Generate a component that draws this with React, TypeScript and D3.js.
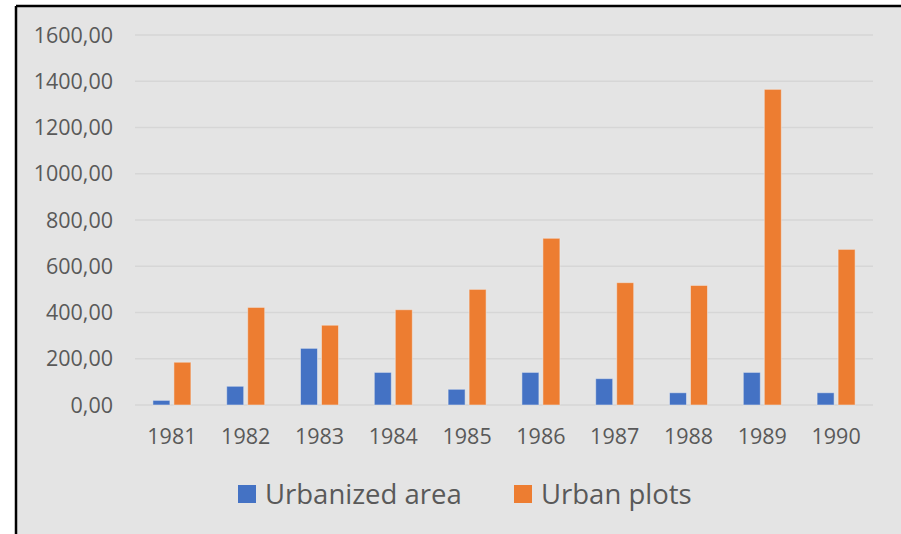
import React from "react";
import * as d3 from "d3";

// values
const years = ["1981", "1982", "1983", "1984", "1985", "1986", "1987", "1988", "1989", "1990"];
const urbanizedArea = [20, 81, 245, 141, 68, 141, 114, 53, 141, 53];
const urbanPlots = [185, 422, 345, 412, 500, 721, 529, 517, 1365, 673];
const yTicks = [0, 200, 400, 600, 800, 1000, 1200, 1400, 1600];
const seriesNames = ["Urbanized area", "Urban plots"];
const seriesColors = ["#4472C4", "#ED7D31"];

const W = 901;
const H = 534;
const margin = { top: 35, right: 28, bottom: 129, left: 135 };
const FONT = "'Open Sans', 'Noto Sans', sans-serif";

const App = () => {
  const x = d3
    .scaleBand()
    .domain(years)
    .range([margin.left, W - margin.right]);
  const y = d3
    .scaleLinear()
    .domain([0, 1600])
    .range([H - margin.bottom, margin.top]);
  const barW = 17;
  const gap = 4;
  const series = [urbanizedArea, urbanPlots];
  const fmt = (v) => d3.format(".2f")(v).replace(".", ",");

  return (
    <svg
      width={W}
      height={H}
      style={{ position: "absolute", left: 0, top: 0, fontFamily: FONT }}
    >
      <rect x={0} y={0} width={W} height={H} fill="#ffffff" />
      <rect x={16} y={6} width={W - 16} height={H - 6} fill="#e4e4e4" />
      <line x1={16} y1={6} x2={W} y2={6} stroke="#000" strokeWidth={2.5} />
      <line x1={16} y1={6} x2={16} y2={H} stroke="#000" strokeWidth={2.5} />

      {/* gridlines + y labels */}
      {yTicks.map((t) => (
        <g key={t}>
          <line
            x1={margin.left}
            x2={W - margin.right}
            y1={y(t)}
            y2={y(t)}
            stroke="#d6d6d6"
            strokeWidth={1.5}
          />
          <text
            x={113}
            y={y(t)}
            dy="0.36em"
            textAnchor="end"
            fontSize={21.5}
            fill="#595959"
          >
            {fmt(t)}
          </text>
        </g>
      ))}

      {/* bars */}
      {years.map((yr, i) => {
        const cx = x(yr) + x.bandwidth() / 2;
        return (
          <g key={yr}>
            {series.map((s, j) => {
              const bx = j === 0 ? cx - gap / 2 - barW : cx + gap / 2;
              return (
                <rect
                  key={j}
                  x={bx}
                  y={y(s[i])}
                  width={barW}
                  height={y(0) - y(s[i])}
                  fill={seriesColors[j]}
                  stroke="#f2f2f2"
                  strokeOpacity={0.5}
                  strokeWidth={1}
                />
              );
            })}
            <text
              x={cx}
              y={436}
              dy="0.36em"
              textAnchor="middle"
              fontSize={21.5}
              fill="#595959"
            >
              {yr}
            </text>
          </g>
        );
      })}

      {/* legend */}
      {seriesNames.map((name, j) => {
        const lx = [238, 514][j];
        return (
          <g key={name}>
            <rect x={lx} y={485} width={18} height={18} fill={seriesColors[j]} />
            <text x={lx + 27} y={494} dy="0.36em" fontSize={27.5} fill="#595959">
              {name}
            </text>
          </g>
        );
      })}
    </svg>
  );
};

export default App;
